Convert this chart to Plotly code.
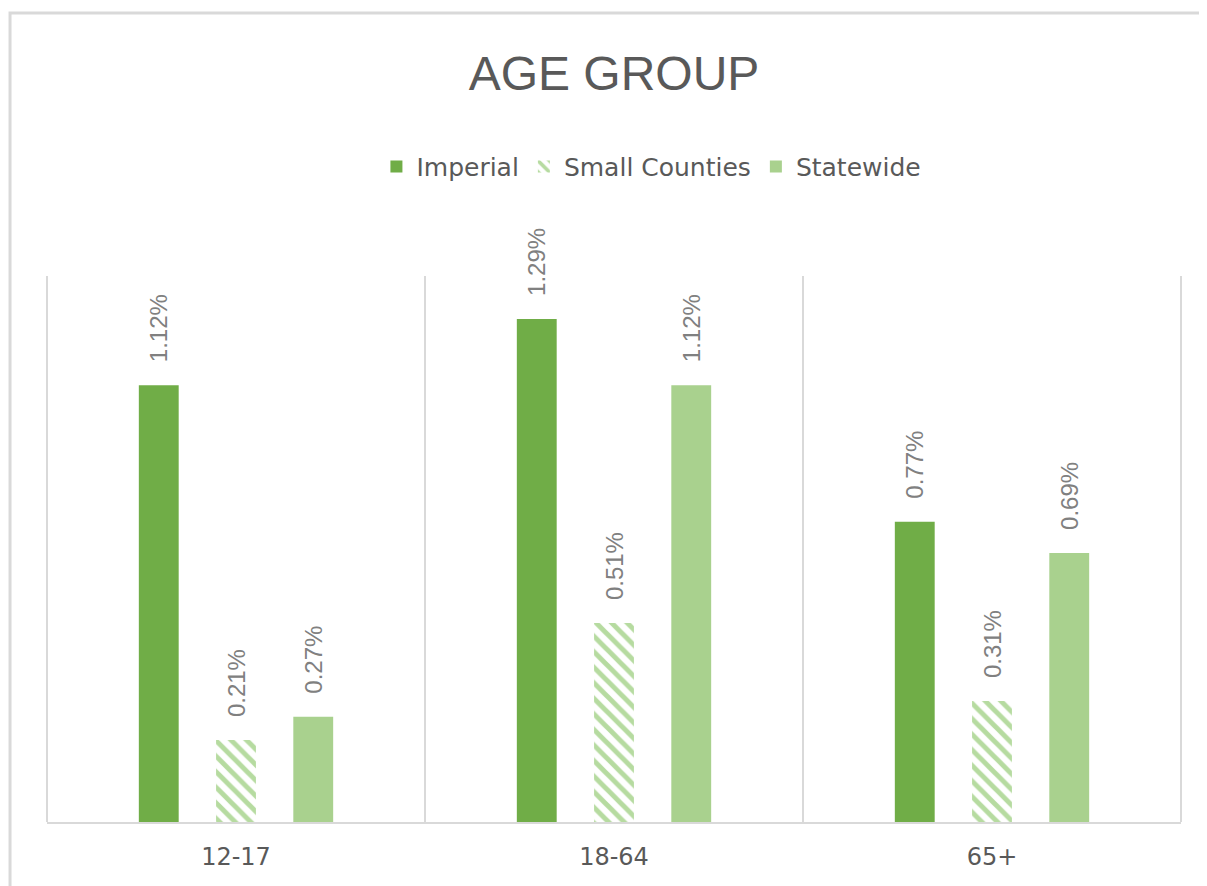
import plotly.graph_objects as go

# data
age_groups = ["12-17", "18-64", "65+"]
imperial = [1.12, 1.29, 0.77]
small_counties = [0.21, 0.51, 0.31]
statewide = [0.27, 1.12, 0.69]

FONT = "Liberation Sans, Arial, sans-serif"
WIDE_FONT = "DejaVu Sans, Verdana, sans-serif"
LABEL_GREY = "#808080"
TEXT_GREY = "#595959"
GRID = "#d9d9d9"
PAD = "\u00a0\u00a0\u00a0"  # keeps the rotated labels off the bar tops


def pct(vals):
    return [f"{PAD}{v:.2f}%" for v in vals]


label_font = dict(size=24, color=LABEL_GREY, family=FONT)

fig = go.Figure()

fig.add_trace(go.Bar(
    x=age_groups, y=imperial, name="Imperial",
    marker=dict(color="#70ad47", line=dict(width=0)),
    text=pct(imperial), textposition="outside", textangle=-90,
    textfont=label_font, constraintext="none", cliponaxis=False,
))

fig.add_trace(go.Bar(
    x=age_groups, y=small_counties, name="Small Counties",
    marker=dict(
        color="#b6dba0", line=dict(width=0),
        pattern=dict(shape="\\", fillmode="replace", bgcolor="white",
                     size=11, solidity=0.45),
    ),
    text=pct(small_counties), textposition="outside", textangle=-90,
    textfont=label_font, constraintext="none", cliponaxis=False,
))

fig.add_trace(go.Bar(
    x=age_groups, y=statewide, name="Statewide",
    marker=dict(color="#a9d18e", line=dict(width=0)),
    text=pct(statewide), textposition="outside", textangle=-90,
    textfont=label_font, constraintext="none", cliponaxis=False,
))

# outer chart border (cut off at the right/bottom, like the screenshot)
fig.add_shape(type="rect", xref="paper", yref="paper",
              x0=-0.0326, x1=1.04, y0=-0.25, y1=1.4817,
              line=dict(color=GRID, width=3), layer="below")

# gridlines on the outer category boundaries
for xe in (0, 1):
    fig.add_shape(type="line", xref="paper", yref="paper",
                  x0=xe, x1=xe, y0=0, y1=1,
                  line=dict(color=GRID, width=2), layer="below")

fig.update_layout(
    width=1199, height=878,
    margin=dict(l=39, r=26, t=268, b=64),
    paper_bgcolor="white", plot_bgcolor="white",
    font=dict(family=FONT, color=TEXT_GREY),
    title=dict(text="AGE GROUP", x=0.5, xanchor="center", xref="paper",
               y=0.926, yanchor="middle",
               font=dict(size=48, color=TEXT_GREY, family=FONT)),
    barmode="group", bargap=0.387, bargroupgap=0.484,
    showlegend=True,
    legend=dict(orientation="h", x=0.533, xanchor="center", y=1.2,
                yref="paper", yanchor="middle",
                font=dict(size=25, color=TEXT_GREY, family=WIDE_FONT),
                itemwidth=30, traceorder="normal"),
    xaxis=dict(showgrid=True, gridcolor=GRID, gridwidth=2, tickson="boundaries",
               ticks="", showline=True, linecolor=GRID, linewidth=2,
               tickfont=dict(size=24, color=TEXT_GREY, family=WIDE_FONT),
               ticklabelstandoff=12),
    yaxis=dict(range=[0, 1.4], showgrid=False, showticklabels=False,
               zeroline=False, showline=False, ticks=""),
)

fig.write_html("out.html")
